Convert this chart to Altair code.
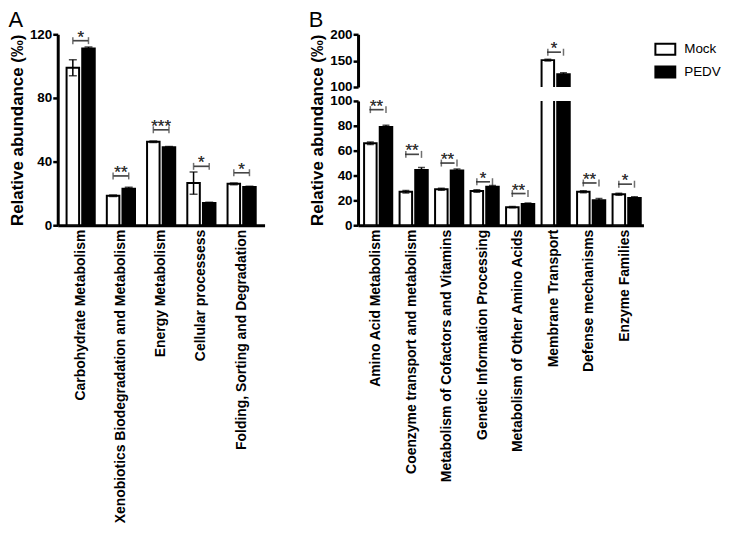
import altair as alt
import pandas as pd

groups = ["Mock", "PEDV"]

a_cats = ["Carbohydrate Metabolism", "Xenobiotics Biodegradation and Metabolism",
          "Energy Metabolism", "Cellular processess", "Folding, Sorting and Degradation"]
a_mock = [99, 18.5, 52.5, 26.5, 26]
a_mock_err = [5, 0.5, 0.5, 7, 0.5]
a_pedv = [111, 23, 49, 14, 24]
a_pedv_err = [1, 0.8, 0.5, 0.5, 0.5]
a_sig_y = [116, 31, 60, 37, 33]
a_sig_txt = ["*", "**", "***", "*", "*"]

b_cats = ["Amino Acid Metabolism", "Coenzyme transport and metabolism",
          "Metabolism of Cofactors and Vitamins", "Genetic Information Processing",
          "Metabolism of Other Amino Acids", "Membrane Transport",
          "Defense mechanisms", "Enzyme Families"]
b_mock = [66, 27, 29, 27.5, 14.5, 151, 27, 25]
b_mock_err = [1, 1, 0.8, 1, 0.5, 1.5, 0.8, 0.8]
b_pedv = [79, 44.5, 44, 31, 17, 124, 20, 22]
b_pedv_err = [1.5, 2, 1.2, 1, 0.8, 3, 1.5, 1]
b_sig_y = [93, 57, 50, 35, 25.5, 166, 34, 33]
b_sig_txt = ["**", "**", "**", "*", "**", "*", "**", "*"]

FONT = "Liberation Sans"


def long_df(cats, mock, mock_err, pedv, pedv_err):
    rows = []
    for c, m, me, p, pe in zip(cats, mock, mock_err, pedv, pedv_err):
        rows.append(dict(cat=c, grp="Mock", val=m, lo=m - me, hi=m + me, base=0))
        rows.append(dict(cat=c, grp="PEDV", val=p, lo=p - pe, hi=p + pe, base=0))
    return pd.DataFrame(rows)


def sig_df(cats, ys, txts):
    rows = []
    for c, y, t in zip(cats, ys, txts):
        for g in groups:
            rows.append(dict(cat=c, grp=g, y=y, txt=t))
    return pd.DataFrame(rows)


fill_scale = alt.Scale(domain=groups, range=["white", "black"])


def panel(df, sig, cats, domain, ticks, width, height, show_x=True, title=None,
          title_y=None, bracket=15, tick_len=8, pad_outer=0.22):
    xaxis = alt.Axis(labelAngle=270, ticks=False, labelPadding=4, title=None,
                     labelFontSize=14, labelLimit=400) if show_x else None
    x = alt.X("cat:N", sort=cats, scale=alt.Scale(domain=cats, paddingInner=0.3,
                                                   paddingOuter=pad_outer), axis=xaxis)
    xo = alt.XOffset("grp:N", scale=alt.Scale(domain=groups, paddingInner=0.2))
    kw = dict(values=ticks, labelOverlap=False)
    if title is None:
        kw["title"] = None
    else:
        kw["title"] = title
        kw["titlePadding"] = 3
    if title_y is not None:
        kw["titleY"] = title_y
    yaxis = alt.Axis(**kw)
    ysc = alt.Scale(domain=domain, nice=False, zero=False)
    base = alt.Chart(df)
    bars = base.mark_bar(stroke="black", strokeWidth=2, clip=True).encode(
        x=x, xOffset=xo, y=alt.Y("val:Q", scale=ysc, axis=yaxis), y2=alt.Y2("base:Q"),
        fill=alt.Fill("grp:N", scale=fill_scale, legend=alt.Legend(title=None)))
    err = base.mark_rule(color="black", strokeWidth=1.5, clip=True).encode(
        x=x, xOffset=xo, y=alt.Y("lo:Q", scale=ysc, axis=yaxis), y2="hi:Q")
    cap_hi = base.mark_tick(color="black", thickness=1.5, size=tick_len, clip=True).encode(
        x=x, xOffset=xo, y=alt.Y("hi:Q", scale=ysc, axis=yaxis))
    cap_lo = base.mark_tick(color="black", thickness=1.5, size=tick_len, clip=True).encode(
        x=x, xOffset=xo, y=alt.Y("lo:Q", scale=ysc, axis=yaxis))
    sbase = alt.Chart(sig)
    hline = sbase.mark_tick(color="#333333", thickness=1.5, size=bracket).encode(
        x=x, y=alt.Y("y:Q", scale=ysc, axis=yaxis))
    vcaps = sbase.mark_tick(color="#333333", thickness=1.5, size=7, orient="vertical").encode(
        x=x, xOffset=xo, y=alt.Y("y:Q", scale=ysc, axis=yaxis))
    stars = sbase.mark_text(font=FONT, fontSize=17, color="#333333", baseline="alphabetic",
                            dy=2).encode(x=x, y=alt.Y("y:Q", scale=ysc, axis=yaxis),
                                         text="txt:N")
    return alt.layer(bars, err, cap_hi, cap_lo, hline, vcaps, stars).properties(
        width=width, height=height)


a_df = long_df(a_cats, a_mock, a_mock_err, a_pedv, a_pedv_err)
a_sig = sig_df(a_cats, a_sig_y, a_sig_txt)
b_df = long_df(b_cats, b_mock, b_mock_err, b_pedv, b_pedv_err)
b_sig = sig_df(b_cats, b_sig_y, b_sig_txt)

title_a = "Relative abundance (\u2030)"

panel_a = panel(a_df, a_sig, a_cats, [0, 120], [0, 40, 80, 120], 208, 192,
                title=title_a, pad_outer=0.22).properties(
    title=alt.TitleParams("A", anchor="start", frame="bounds", fontSize=22,
                          font=FONT, fontWeight="normal", offset=-5))

b_upper = panel(b_df, b_sig[b_sig["y"] > 100], b_cats, [100, 200], [100, 150, 200],
                287, 53, show_x=False, title=None, bracket=14, tick_len=7, pad_outer=0.17)
b_lower = panel(b_df, b_sig[b_sig["y"] < 100], b_cats, [0, 100],
                [0, 20, 40, 60, 80, 100], 287, 125, title=title_a, title_y=29,
                bracket=14, tick_len=7, pad_outer=0.17)

panel_b = alt.vconcat(b_upper, b_lower, spacing=14, bounds="flush").resolve_scale(
    x="independent", y="independent").properties(
    title=alt.TitleParams("B", anchor="start", frame="bounds", fontSize=22,
                          font=FONT, fontWeight="normal", offset=-5))

chart = alt.hconcat(panel_a, panel_b, spacing=44).resolve_scale(
    x="independent", y="independent", fill="shared").properties(
    padding={"left": 0, "top": 0, "right": 0, "bottom": 0}
).configure_view(stroke=None).configure_axis(
    domainColor="black", domainWidth=3, tickColor="black", tickWidth=2.5, tickSize=5,
    labelFont=FONT, labelFontWeight="bold", labelFontSize=13.5, labelColor="black",
    labelPadding=1,
    titleFont=FONT, titleFontWeight="bold", titleFontSize=17, titleColor="black",
    grid=False
).configure_legend(
    orient="right", offset=7, padding=4, labelFont=FONT, labelFontSize=13.5,
    labelColor="black", symbolType="M-1,-0.55L1,-0.55L1,0.55L-1,0.55Z", symbolSize=400,
    symbolStrokeColor="black", symbolStrokeWidth=2, rowPadding=2, labelOffset=8
).configure_title(color="black")

chart.save("out.html", embed_options={"renderer": "svg", "actions": False})
